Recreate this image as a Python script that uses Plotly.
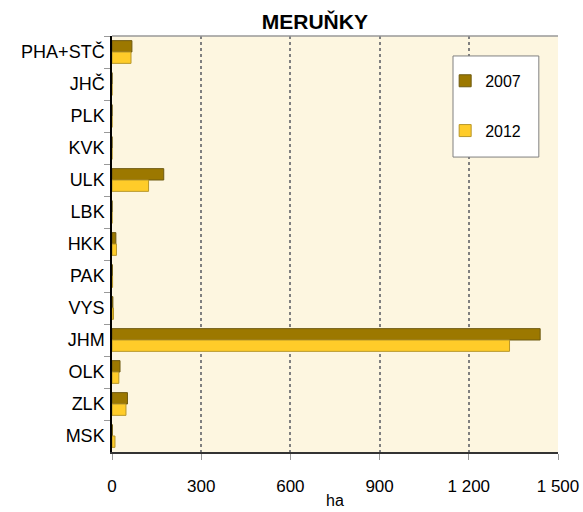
import plotly.graph_objects as go

regions = ["PHA+STČ", "JHČ", "PLK", "KVK", "ULK", "LBK", "HKK",
           "PAK", "VYS", "JHM", "OLK", "ZLK", "MSK"]
ha_2007 = [67, 0, 0, 0, 174, 0, 13, 1, 3, 1440, 27, 52, 1]
ha_2012 = [64, 0, 0, 0, 123, 0, 15, 2, 5, 1337, 23, 47, 10]
x_ticks = [0, 300, 600, 900, 1200, 1500]
x_labels = ["0", "300", "600", "900", "1 200", "1 500"]

fig = go.Figure()
fig.add_trace(go.Bar(y=regions, x=ha_2007, name="2007", orientation="h",
                     legendgroup="a",
                     marker=dict(color="#9C7800", line=dict(color="#6E5A10", width=1))))
fig.add_trace(go.Bar(y=regions, x=ha_2012, name="2012", orientation="h",
                     legendgroup="b",
                     marker=dict(color="#FFCC29", line=dict(color="#B8972A", width=1))))

fig.update_layout(
    width=583, height=512,
    title=dict(text="<b>MERUŇKY</b>", x=0.54, xanchor="center", y=0.958, yanchor="middle",
               font=dict(size=21, color="black")),
    font=dict(family="Liberation Sans, Arial, sans-serif", size=17, color="black"),
    paper_bgcolor="white",
    plot_bgcolor="#FDF6E0",
    margin=dict(l=112, r=25, t=36, b=60),
    barmode="group",
    bargap=0.29,
    bargroupgap=0,
    legend=dict(x=0.747, y=0.933, xanchor="left", yanchor="top",
                bgcolor="rgba(0,0,0,0)", borderwidth=0,
                traceorder="grouped", tracegroupgap=26,
                font=dict(size=16)),
    xaxis=dict(range=[0, 1500], tickvals=x_ticks, ticktext=x_labels,
               showgrid=True, gridcolor="#808080", griddash="dot", gridwidth=1.5,
               showline=True, linecolor="#333333", linewidth=1.5, mirror=False,
               ticks="outside", ticklen=6, tickcolor="#999999",
               ticklabelstandoff=12,
               zeroline=False, automargin=False,
               title=dict(text="ha", font=dict(size=16), standoff=0)),
    yaxis=dict(autorange="reversed", showgrid=False,
               showline=True, linecolor="black", linewidth=1.5,
               ticks="outside", ticklen=6, tickcolor="#999999",
               tickfont=dict(size=18),
               tickson="boundaries", ticklabelstandoff=2, automargin=False),
    shapes=[
        dict(type="line", xref="paper", yref="paper", x0=0, x1=1, y0=1, y1=1,
             line=dict(color="#999999", width=1.5)),
        dict(type="rect", xref="paper", yref="paper", x0=0.7646, x1=0.957,
             y0=0.709, y1=0.952, layer="above", fillcolor="white",
             line=dict(color="#808080", width=1)),
    ],
)

fig.write_html("out.html", config={"displayModeBar": False},
               post_script="document.body.style.margin='0';")
